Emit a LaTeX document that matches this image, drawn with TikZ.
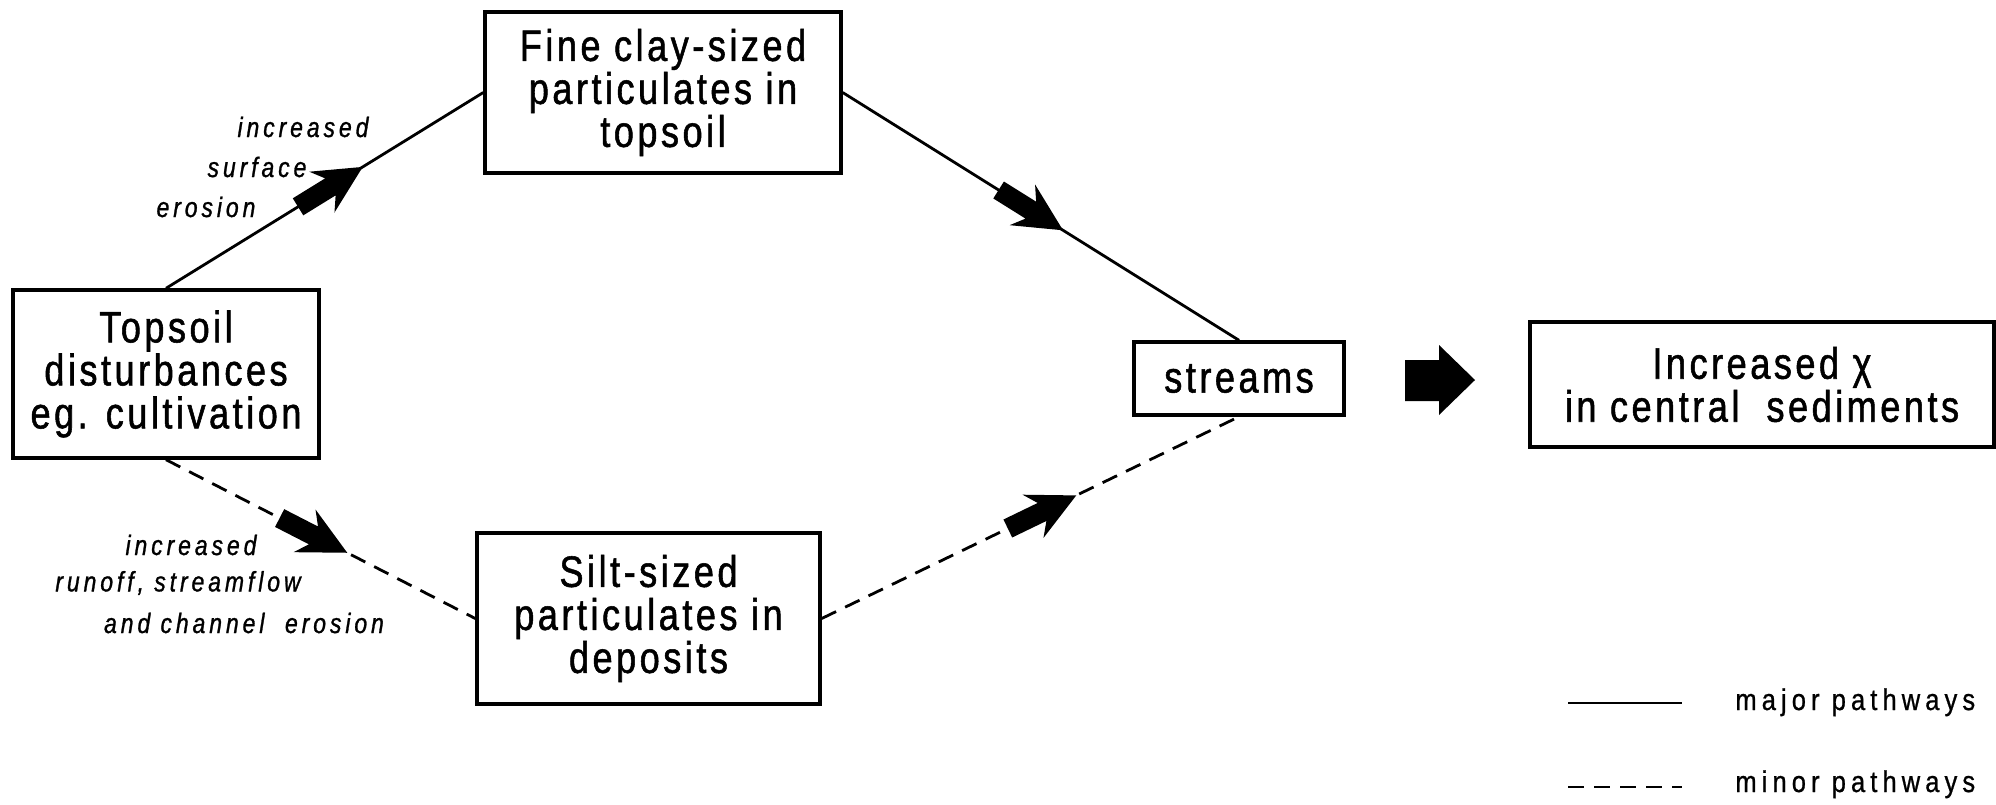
\documentclass[tikz,border=0pt]{standalone}
\usepackage{fontspec}
\setmainfont{Liberation Sans}[LetterSpace=8, FakeStretch=0.82, FakeBold=1.2]
\newfontfamily\lblfont{Liberation Sans}[LetterSpace=14, FakeStretch=0.82, FakeBold=1.0]
\newfontfamily\legfont{Liberation Sans}[LetterSpace=17, FakeStretch=0.85, FakeBold=0.8]
\usetikzlibrary{decorations.markings,calc}
\tikzset{
  box/.style={draw, line width=1.7pt, inner sep=0pt, align=center, font=\fontsize{22}{21.5}\selectfont},
  major/.style={line width=1.4pt},
  minor/.style={line width=1.4pt, dash pattern=on 8pt off 5pt},
  headat/.style={postaction={decorate, decoration={markings, mark=at position #1 with {\fill (0pt,0pt) -- (-24pt,12pt) -- (-19pt,5pt) -- (-38pt,5pt) -- (-38pt,-5pt) -- (-19pt,-5pt) -- (-24pt,-12pt) -- cycle;}}}},
  lbl/.style={font=\lblfont\itshape\fontsize{14}{15}\selectfont, inner sep=0pt},
  leg/.style={font=\legfont\fontsize{15}{16}\selectfont, inner sep=0pt, anchor=base west},
}
\begin{document}
\begin{tikzpicture}[x=0.5pt, y=-0.5pt]
\useasboundingbox (0,0) rectangle (1996,804);
\node[box, minimum width=153pt, minimum height=84pt] (topsoil) at (166,374) {Topsoil\\disturbances\\eg. cultivation};
\node[box, minimum width=178pt, minimum height=80.5pt] (fine) at (663,92.5) {Fine clay-sized\\particulates in\\topsoil};
\node[box, minimum width=171.5pt, minimum height=85.5pt] (silt) at (648.5,618.5) {Silt-sized\\particulates in\\deposits};
\node[box, minimum width=105pt, minimum height=36.5pt] (streams) at (1239,378.5) {streams};
\node[box, minimum width=232pt, minimum height=62.5pt] (result) at (1762,384.5) {Increased χ\\in central\ \ sediments};

\draw[major, headat=0.62] (topsoil.north) -- (fine.west);
\draw[major, headat=0.556] (fine.east) -- (streams.north);
\draw[minor, headat=0.586] (topsoil.south) -- (silt.west);
\draw[minor, headat=0.61] (silt.east) -- (streams.south);

\fill (1405,360) -- (1439,360) -- (1439,345) -- (1475,380) -- (1439,415) -- (1439,401) -- (1405,401) -- cycle;

\node[lbl] (l1) at (303,127) {increased};
\node[lbl] (l2) at (257,167) {surface};
\node[lbl] (l3) at (206,207) {erosion};
\node[lbl] (l4) at (191,545) {increased};
\node[lbl] (l5) at (178,583) {runoff, streamflow};
\node[lbl] (l6) at (244,623) {and channel\ \ erosion};

\coordinate (m1) at (1568,703);
\coordinate (m2) at (1682,703);
\draw[major] (m1) -- (m2);
\node[leg] (mt) at (1735,710) {major pathways};
\coordinate (n1) at (1568,787);
\coordinate (n2) at (1682,787);
\draw[minor] (n1) -- (n2);
\node[leg] (nt) at (1735,792) {minor pathways};
\end{tikzpicture}
\end{document}
